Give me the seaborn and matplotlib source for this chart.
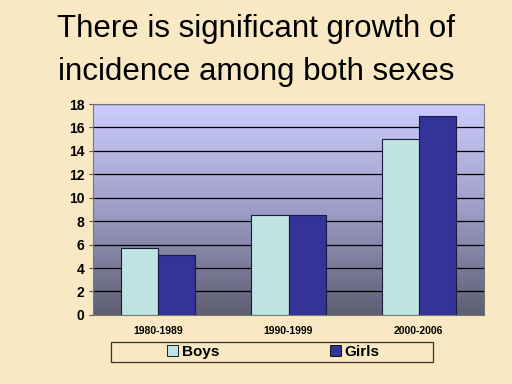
import matplotlib
matplotlib.use("Agg")
import matplotlib.pyplot as plt
from matplotlib.colors import LinearSegmentedColormap
from matplotlib.patches import Patch, Rectangle
import seaborn as sns
import numpy as np
import pandas as pd

periods = ["1980-1989", "1990-1999", "2000-2006"]
boys = [5.7, 8.5, 15.0]
girls = [5.1, 8.5, 17.0]
series_names = ["Boys", "Girls"]
colors = ["#bde3e3", "#333399"]
title_lines = ["There is significant growth of", "incidence among both sexes"]

sns.set_style("white")
plt.rcParams['font.family'] = ['Liberation Sans', 'DejaVu Sans']
plt.rcParams['text.color'] = 'black'
plt.rcParams['xtick.color'] = 'black'
plt.rcParams['ytick.color'] = 'black'

df = pd.DataFrame({
	"period": periods * 2,
	"value": boys + girls,
	"sex": [series_names[0]] * 3 + [series_names[1]] * 3,
})

bg = "#f8e8c4"
fig = plt.figure(figsize=(5.12, 3.84), dpi=100)
fig.patch.set_facecolor(bg)
ax = fig.add_axes([0.182, 0.180, 0.763, 0.549])

sns.barplot(data=df, x="period", y="value", hue="sex", palette=colors,
	saturation=1, width=0.57, gap=0, edgecolor="#1a1a40", linewidth=0.8,
	ax=ax, legend=False, zorder=3)

# gradient plot area
cmap = LinearSegmentedColormap.from_list("bg", ["#5e5e72", "#9d9dc6", "#ccccfc"])
grad = np.linspace(0, 1, 256)[:, None]
ax.imshow(grad, extent=[-0.5, 2.5, 0, 18], origin="lower", aspect="auto",
	cmap=cmap, zorder=0)
ax.set_xlim(-0.5, 2.5)
ax.set_ylim(0, 18)

ax.set_yticks(np.arange(0, 19, 2))
for y in np.arange(2, 19, 2):
	ax.axhline(y, color="black", linewidth=0.9, zorder=1)

ax.set_xlabel("")
ax.set_ylabel("")
ax.tick_params(axis="x", length=0, pad=8, labelsize=7.5)
ax.set_xticks([0.5, 1.5], minor=True)
ax.tick_params(axis="x", which="minor", length=4, color="#555555", direction="out")
ax.tick_params(axis="y", length=3, direction="out", color="#555555", labelsize=10, left=True)
for lbl in ax.get_xticklabels() + ax.get_yticklabels():
	lbl.set_fontweight("bold")

for s in ax.spines.values():
	s.set_color("#777777")
	s.set_linewidth(0.8)

fig.text(0.5, 1 - 37 / 384, title_lines[0], ha="center", va="baseline", fontsize=22.5)
fig.text(0.5, 1 - 80 / 384, title_lines[1], ha="center", va="baseline", fontsize=22.5)

# legend frame drawn separately, Excel-style wide box
fig.patches.append(Rectangle((111 / 512, 1 - 362 / 384), 322 / 512, 20 / 384,
	transform=fig.transFigure, facecolor="none", edgecolor="#333333", linewidth=0.9))
handles = [Patch(facecolor=c, edgecolor="black", linewidth=0.6) for c in colors]
fig.legend(handles, series_names, loc="center", bbox_to_anchor=(0.534, 0.083),
	ncol=2, frameon=False, handlelength=0.75, handleheight=0.75,
	handletextpad=0.25, columnspacing=7.2, borderpad=0.1,
	prop={"weight": "bold", "size": 11})

plt.savefig("out.png", dpi=100, facecolor=fig.get_facecolor())
